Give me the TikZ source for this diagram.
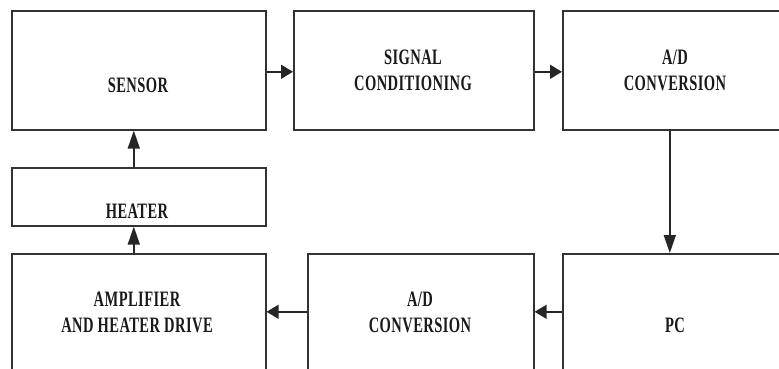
\documentclass[tikz,border=0pt]{standalone}
\usepackage{fontspec}
\newfontfamily\lbl[FakeStretch=0.66,LetterSpace=2]{Liberation Serif}
\usetikzlibrary{arrows.meta}
\begin{document}
\begin{tikzpicture}[x=1pt,y=-1pt,
  blk/.style={draw=black!80,line width=1.6pt,inner sep=0pt,anchor=north west},
  txt/.style={font=\lbl\bfseries\fontsize{22}{26}\selectfont,text=black!90,align=center,inner sep=0pt,text depth=0pt,anchor=south},
  harr/.style={draw=black!85,line width=1.6pt,-{Triangle[length=12pt,width=14pt]}},
  varr/.style={draw=black!85,line width=1.6pt,-{Triangle[length=18pt,width=12pt]}}]
\useasboundingbox (0,0) rectangle (779,369);
\clip (0,0) rectangle (779,369);
% boxes
\node[blk,minimum width=254pt,minimum height=119pt] (sensor) at (11,10) {};
\node[blk,minimum width=240pt,minimum height=119pt] (sig) at (293,10) {};
\node[blk,minimum width=226pt,minimum height=119pt] (ad1) at (562,10) {};
\node[blk,minimum width=254pt,minimum height=58pt] (heater) at (11,167) {};
\node[blk,minimum width=254pt,minimum height=127pt] (amp) at (11,253) {};
\node[blk,minimum width=226pt,minimum height=127pt] (ad2) at (307,253) {};
\node[blk,minimum width=226pt,minimum height=127pt] (pc) at (562,253) {};
% texts
\node[txt] (tsensor) at (138,92.5) {SENSOR};
\node[txt] (tsig) at (413,90.5) {SIGNAL\\CONDITIONING};
\node[txt] (tad1) at (675,90.5) {A/D\\CONVERSION};
\node[txt] (theater) at (137,219) {HEATER};
\node[txt] (tamp) at (137,332.5) {AMPLIFIER\\AND HEATER DRIVE};
\node[txt] (tad2) at (420,332.5) {A/D\\CONVERSION};
\node[txt] (tpc) at (675,332.5) {PC};
% connectors
\draw[harr] ([yshift=-1.5pt]sensor.east) -- ([yshift=-1.5pt]sig.west);
\draw[harr] ([yshift=-1.5pt]sig.east) -- ([yshift=-1.5pt]ad1.west);
\draw[varr] ([xshift=-6pt]ad1.south) -- ([xshift=-6pt]pc.north);
\draw[harr] ([yshift=5.5pt]pc.west) -- ([yshift=5.5pt]ad2.east);
\draw[harr] ([yshift=5.5pt]ad2.west) -- ([yshift=5.5pt]amp.east);
\draw[varr] ([xshift=-5pt]amp.north) -- ([xshift=-5pt]heater.south);
\draw[varr] ([xshift=-5pt]heater.north) -- ([xshift=-5pt]sensor.south);
\end{tikzpicture}
\end{document}
